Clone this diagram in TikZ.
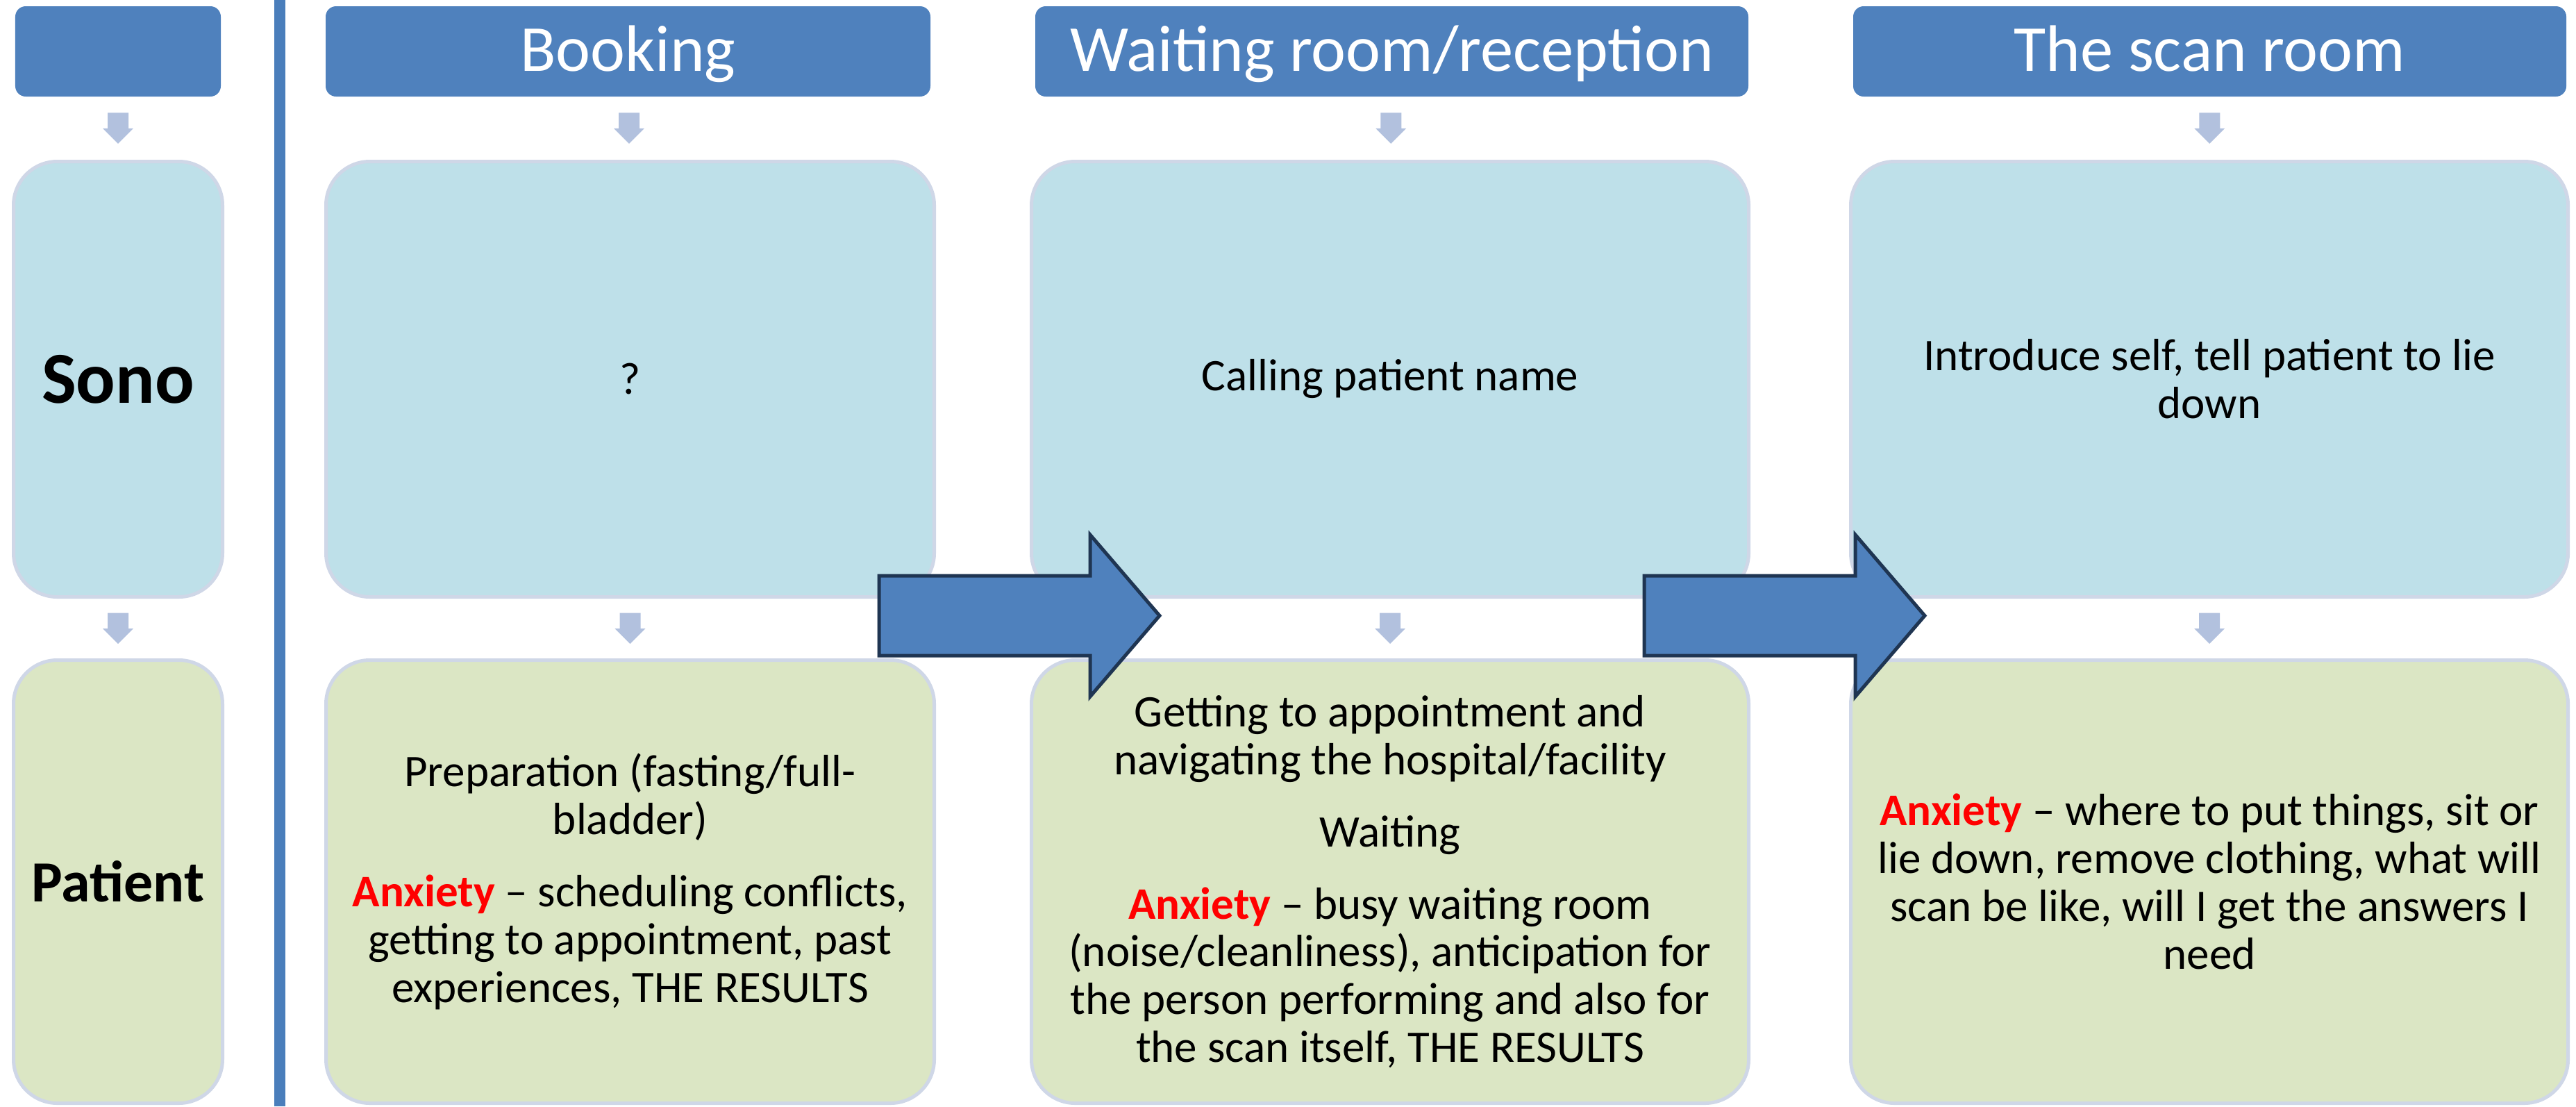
\documentclass[tikz,border=0pt]{standalone}
\usepackage{fontspec}
\setmainfont{Carlito}
\usetikzlibrary{calc}

\definecolor{headblue}{HTML}{4F81BD}
\definecolor{sonofill}{HTML}{BEE0E9}
\definecolor{patfill}{HTML}{DBE6C4}
\definecolor{boxline}{HTML}{CFD7E7}
\definecolor{arrfill}{HTML}{B2C1DE}
\definecolor{arrline}{HTML}{1F3552}
\definecolor{vline}{HTML}{4A7EBB}

\newcommand{\anxword}{\textcolor{red}{\textbf{Anxiety}}}

\tikzset{
  header/.style={rectangle, rounded corners=0.15cm, fill=headblue, text=white,
    font=\fontsize{26.9}{32}\selectfont, text height=0.71cm, text depth=0.15cm,
    minimum height=1.30cm, inner sep=0},
  sonobox/.style={rectangle, rounded corners=0.63cm, fill=sonofill, draw=boxline,
    line width=0.05cm, minimum height=6.27cm, align=center, inner sep=0,
    font=\fontsize{18.5}{19.6}\selectfont},
  patbox/.style={sonobox, fill=patfill, minimum height=6.38cm},
  downarr/.pic={
    \fill[arrfill] (-0.15,0.225) -- (0.15,0.225) -- (0.15,0) -- (0.22,0)
      -- (0,-0.22) -- (-0.22,0) -- (-0.15,0) -- cycle;
  },
  bigarr/.pic={
    \filldraw[fill=headblue, draw=arrline, line width=0.05cm]
      (0,0.575) -- (3.04,0.575) -- (3.04,1.165) -- (4.04,0)
      -- (3.04,-1.165) -- (3.04,-0.575) -- (0,-0.575) -- cycle;
  }
}

\begin{document}
\begin{tikzpicture}
  \useasboundingbox (0,0) rectangle (37.10,-15.93);

  % headers
  \node[header, minimum width=2.96cm] (h0) at (1.70,-0.74) {};
  \node[header, minimum width=8.71cm] (h1) at (9.045,-0.74) {Booking};
  \node[header, minimum width=10.27cm] (h2) at (20.045,-0.74) {Waiting room/reception};
  \node[header, minimum width=10.27cm] (h3) at (31.825,-0.74) {The scan room};

  % sonographer row
  \node[sonobox, minimum width=3.01cm, font=\bfseries\fontsize{30}{36}\selectfont] (s0) at (1.70,-5.46) {Sono};
  \node[sonobox, minimum width=8.76cm] (s1) at (9.075,-5.46) {?};
  \node[sonobox, minimum width=10.33cm] (s2) at (20.02,-5.46) {Calling patient name};
  \node[sonobox, minimum width=10.33cm] (s3) at (31.82,-5.46) {Introduce self, tell patient to lie\\down};

  % patient row
  \node[patbox, minimum width=3.01cm, font=\bfseries\fontsize{23.9}{28}\selectfont] (p0) at (1.70,-12.695) {Patient};
  \node[patbox, minimum width=8.76cm] (p1) at (9.075,-12.695)
    {Preparation (fasting/full-\\bladder)\\[10pt]
     \anxword{} – scheduling conflicts,\\getting to appointment, past\\experiences, THE RESULTS};
  \node[patbox, minimum width=10.33cm] (p2) at (20.02,-12.695)
    {Getting to appointment and\\navigating the hospital/facility\\[10pt]
     Waiting\\[10pt]
     \anxword{} – busy waiting room\\(noise/cleanliness), anticipation for\\the person performing and also for\\the scan itself, THE RESULTS};
  \node[patbox, minimum width=10.33cm] (p3) at (31.82,-12.695)
    {\anxword{} – where to put things, sit or\\lie down, remove clothing, what will\\scan be like, will I get the answers I\\need};

  % small arrows down each column
  \foreach \i in {0,...,3} {
    \pic at ($(h\i.south)!0.5!(s\i.north)$) {downarr};
    \pic at ($(s\i.south)!0.5!(p\i.north)$) {downarr};
  }

  % divider
  \fill[vline] (3.95,0) rectangle (4.11,-15.93);

  % big arrows between stages
  \pic at (12.66,-8.865) {bigarr};
  \pic at (23.68,-8.865) {bigarr};
\end{tikzpicture}
\end{document}
